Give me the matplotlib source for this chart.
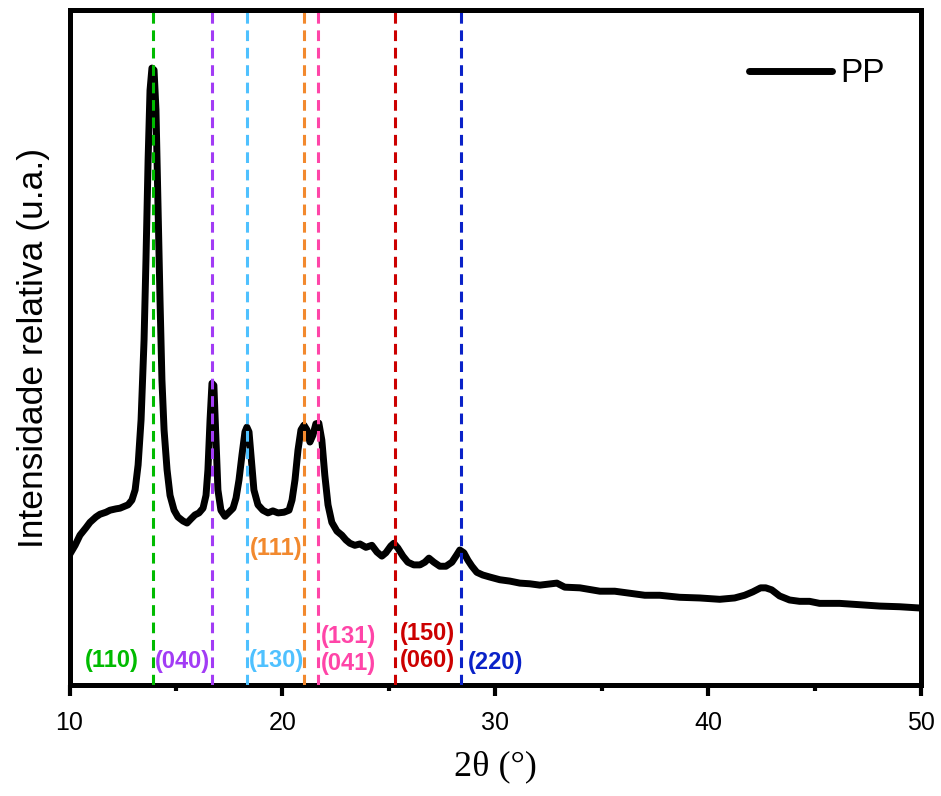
import matplotlib
matplotlib.use("Agg")
import matplotlib.pyplot as plt
from matplotlib.ticker import MultipleLocator

# XRD pattern of PP
two_theta = [10.0, 10.26, 10.49, 10.77, 10.96, 11.24, 11.43, 11.71, 11.9, 12.18,
             12.37, 12.6, 12.75, 12.93, 13.08, 13.22, 13.36, 13.5, 13.59, 13.69,
             13.78, 13.87, 13.97, 14.06, 14.15, 14.25, 14.34, 14.44, 14.58, 14.72,
             14.91, 15.09, 15.33, 15.52, 15.7, 15.89, 16.08, 16.27, 16.41, 16.5,
             16.6, 16.69, 16.78, 16.88, 16.97, 17.11, 17.3, 17.49, 17.68, 17.82,
             17.96, 18.1, 18.24, 18.33, 18.43, 18.52, 18.66, 18.85, 19.08, 19.32,
             19.55, 19.79, 20.07, 20.31, 20.45, 20.59, 20.73, 20.87, 21.01, 21.15,
             21.29, 21.43, 21.57, 21.71, 21.85, 21.99, 22.14, 22.32, 22.56, 22.79,
             22.98, 23.17, 23.4, 23.64, 23.92, 24.2, 24.44, 24.67, 24.86, 25.09,
             25.23, 25.42, 25.66, 25.89, 26.17, 26.46, 26.69, 26.88, 27.11, 27.39,
             27.68, 27.96, 28.19, 28.33, 28.52, 28.71, 28.9, 29.13, 29.41, 29.74,
             30.21, 30.68, 31.15, 31.62, 32.09, 32.89, 33.26, 33.97, 34.91, 35.61,
             36.32, 37.02, 37.72, 38.66, 39.6, 40.54, 41.24, 41.71, 42.09, 42.46,
             42.7, 42.98, 43.35, 43.82, 44.29, 44.76, 45.23, 46.17, 47.11, 48.05,
             48.99, 50.0]
intensity = [19.3, 20.7, 22.2, 23.3, 24.1, 24.9, 25.3, 25.6, 25.9, 26.1,
             26.2, 26.5, 26.7, 27.4, 28.9, 32.6, 39.3, 51.1, 63.0, 77.8,
             88.1, 91.4, 91.1, 85.2, 71.9, 57.0, 45.2, 37.8, 31.9, 28.1,
             25.9, 24.9, 24.3, 24.0, 24.6, 25.2, 25.5, 26.2, 28.1, 31.9,
             39.3, 44.7, 44.4, 36.3, 28.9, 25.9, 25.0, 25.6, 26.2, 27.7,
             30.4, 34.1, 37.5, 38.2, 37.5, 34.1, 28.9, 26.7, 25.9, 25.5,
             25.8, 25.5, 25.6, 25.9, 27.4, 30.4, 34.8, 37.8, 38.5, 37.8,
             36.0, 37.0, 38.7, 38.8, 36.3, 31.1, 26.7, 24.1, 22.8, 22.2,
             21.5, 21.0, 20.7, 20.9, 20.4, 20.7, 19.7, 19.1, 19.6, 20.6,
             21.0, 20.3, 19.1, 18.2, 17.8, 17.8, 18.2, 18.8, 18.2, 17.6,
             17.6, 18.2, 19.3, 20.0, 19.6, 18.5, 17.6, 16.7, 16.3, 16.0,
             15.6, 15.4, 15.1, 15.0, 14.8, 15.1, 14.5, 14.4, 13.9, 13.9,
             13.6, 13.3, 13.3, 13.0, 12.9, 12.7, 12.9, 13.3, 13.8, 14.4,
             14.4, 14.1, 13.2, 12.6, 12.4, 12.4, 12.1, 12.1, 11.9, 11.7,
             11.6, 11.4]

# reflection positions and their labels
peak_pos = [13.9, 16.68, 18.35, 21.0, 21.68, 25.28, 28.37]
peak_colors = ['#00BB00', '#A23CF5', '#4FC1FF', '#F2892E', '#FF45A8', '#CC0000', '#0A22C8']

hkl_text = ['(110)', '(040)', '(130)', '(111)', '(131)', '(041)', '(150)', '(060)', '(220)']
hkl_x = [12.0, 15.3, 19.7, 19.7, 23.1, 23.1, 26.8, 26.8, 30.0]
hkl_y = [3.6, 3.5, 3.6, 20.2, 7.2, 3.2, 7.6, 3.6, 3.4]
hkl_colors = ['#00BB00', '#A23CF5', '#4FC1FF', '#F2892E', '#FF45A8', '#FF45A8',
              '#CC0000', '#CC0000', '#0A22C8']

sans = ['Liberation Sans', 'DejaVu Sans']

fig = plt.figure(figsize=(9.41, 7.96), dpi=100)
ax = fig.add_axes([0.0739, 0.1394, 0.905, 0.848])

ax.plot(two_theta, intensity, color='black', lw=5, label='PP',
        solid_joinstyle='round', solid_capstyle='round', zorder=2)
# dashed reflection markers drawn over the pattern
for x, c in zip(peak_pos, peak_colors):
    ax.axvline(x, color=c, lw=2.2, ls=(0, (3.5, 2.2)), zorder=3)

for t, x, y, c in zip(hkl_text, hkl_x, hkl_y, hkl_colors):
    ax.text(x, y, t, color=c, fontsize=17, fontweight='bold',
            family=sans, ha='center', va='center')

ax.set_xlim(10, 50)
ax.set_ylim(0, 100)
ax.set_yticks([])
ax.xaxis.set_major_locator(MultipleLocator(10))
ax.xaxis.set_minor_locator(MultipleLocator(5))
ax.tick_params(axis='x', which='major', direction='out', length=8, width=3,
               pad=11, labelsize=18)
ax.tick_params(axis='x', which='minor', direction='out', length=4, width=3)
for lab in ax.get_xticklabels():
    lab.set_family(sans)
for s in ax.spines.values():
    s.set_linewidth(3.6)

ax.set_xlabel('2θ (°)', fontsize=26, family=['Liberation Serif', 'DejaVu Serif'],
              labelpad=11)
ax.set_ylabel('Intensidade relativa (u.a.)', fontsize=25.5, family=sans, labelpad=14)

leg = ax.legend(loc='upper right', bbox_to_anchor=(0.993, 0.973), frameon=False,
                handlelength=2.5, handletextpad=0.25,
                prop={'family': sans, 'size': 24})

fig.savefig('out.png', dpi=100)
